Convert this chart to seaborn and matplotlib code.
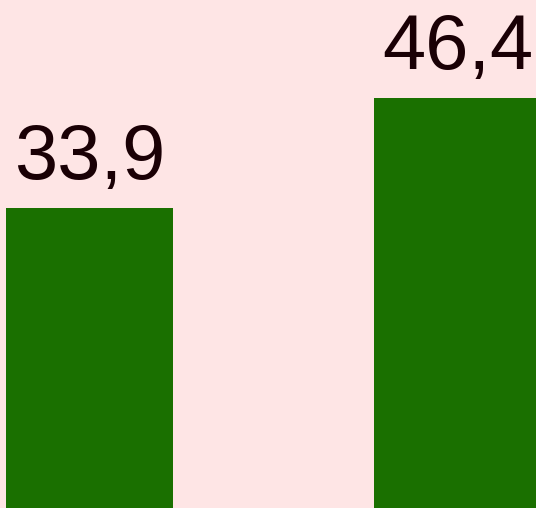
import matplotlib
matplotlib.use("Agg")
import matplotlib.pyplot as plt
import seaborn as sns
import pandas as pd

categories = ["A", "B"]
values = [33.9, 46.4]
labels = ["33,9", "46,4"]

bg = "#fee5e5"
green = "#1a7000"
text_color = "#1a0005"

sns.set_theme(style="white")
plt.rcParams["font.family"] = ["Liberation Sans", "DejaVu Sans"]

df = pd.DataFrame({"cat": categories, "val": values})

fig = plt.figure(figsize=(5.36, 5.08), dpi=100, facecolor=bg)
ax = fig.add_axes([0, 0, 1, 1])
ax.set_facecolor(bg)

sns.barplot(data=df, x="cat", y="val", color=green, saturation=1, width=0.454, ax=ax)
for p in ax.patches:
    p.set_edgecolor("none")

ax.set_xlim(-0.243, 1.213)
ax.set_ylim(0, 57.45)
ax.axis("off")

# value labels centred over bars, baseline ~29 px above bar top
for i, (v, lab) in enumerate(zip(values, labels)):
    ax.annotate(lab, xy=(i, v), xytext=(0, 20.9), textcoords="offset points",
                ha="center", va="baseline", fontsize=56, color=text_color)

fig.savefig("out.png", dpi=100, facecolor=bg)
